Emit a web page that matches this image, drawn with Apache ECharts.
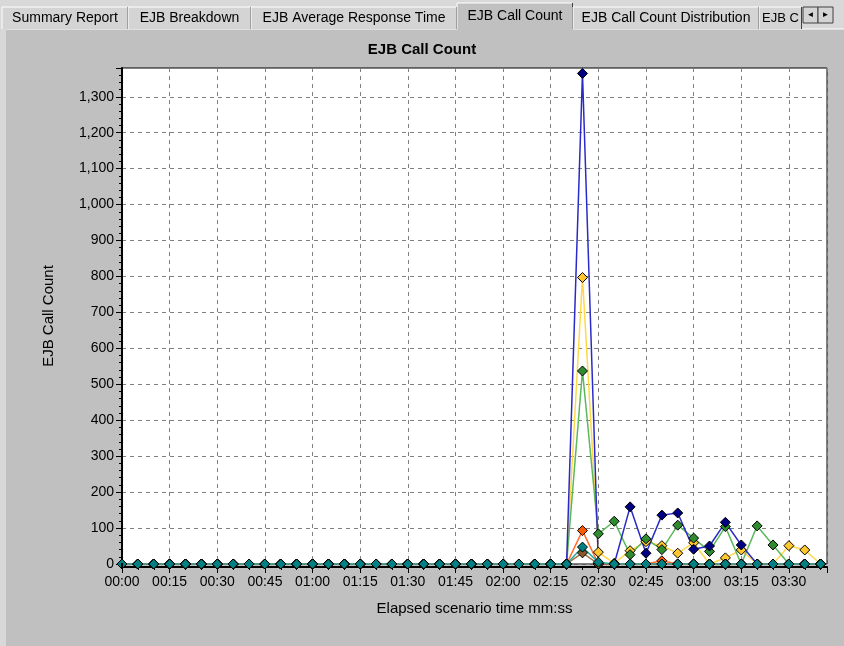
<!DOCTYPE html>
<html><head><meta charset="utf-8">
<script src="https://cdn.jsdelivr.net/npm/echarts@6/dist/echarts.min.js"></script>
<style>html,body{margin:0;padding:0;background:#c0c0c0;} #c{width:844px;height:646px;}</style>
</head><body><div id="c"></div>
<script>
// elapsed time, seconds
const seconds = [0,5,10,15,20,25,30,35,40,45,50,55,60,65,70,75,80,85,90,95,100,105,110,115,120,125,130,135,140,
  145,150,155,160,165,170,175,180,185,190,195,200,205,210,215,220];
const zeros29 = [0,0,0,0,0,0,0,0,0,0,0,0,0,0,0,0,0,0,0,0,0,0,0,0,0,0,0,0,0];
const blueVals   = zeros29.concat([1365, 0, 0, 159, 30, 136, 142, 41, 50, 116, 53, 0, 0, 0, 0, 0]);
const yellowVals = zeros29.concat([797, 33, 2, 37, 62, 51, 30, 59, 0, 17, 39, 0, 0, 51, 39, 0]);
const greenVals  = zeros29.concat([537, 84, 119, 26, 70, 40, 108, 72, 35, 104, 0, 106, 53, 0, 0, 0]);
const orangeVals = zeros29.concat([93, 0, 0, 0, 0, 9, 0, 0, 0, 0, 0, 0, 0, 0, 0, 0]);
const brownVals  = zeros29.concat([31, 0, 0, 0, 0, 0, 0, 0, 0, 0, 0, 0, 0, 0, 0, 0]);
const tealVals   = zeros29.concat([47, 5, 0, 0, 0, 0, 0, 0, 0, 0, 0, 0, 0, 0, 0, 0]);
const tabLabels = ['Summary Report','EJB Breakdown','EJB Average Response Time','EJB Call Count','EJB Call Count Distribution','EJB C'];
const chartTitle = 'EJB Call Count';
const yName = 'EJB Call Count';
const xName = 'Elapsed scenario time mm:ss';

const FONT = '"Liberation Sans", Arial, sans-serif';
function mmss(v){const m=Math.floor(v/60), s=Math.round(v%60);return (m<10?'0':'')+m+':'+(s<10?'0':'')+s;}
function pairs(vals){return seconds.map((s,i)=>[s, vals[i]]);}

function mk(name, vals, lineColor, markColor){
  return {name, type:'line', data:pairs(vals), symbol:'diamond', symbolSize:10,
    lineStyle:{color:lineColor, width:1.5}, itemStyle:{color:markColor, borderColor:'#000', borderWidth:1},
    emphasis:{disabled:true}, animation:false};
}

// tabs graphics
const tabX = [2,128,251,457,573,759,802];
const graphics = [{type:'rect', shape:{x:0,y:0,width:844,height:29}, style:{fill:'#d8d8d8'}, z:1},
                  {type:'rect', shape:{x:0,y:29,width:6,height:617}, style:{fill:'#d8d8d8'}, z:1},
                  {type:'line', shape:{x1:6,y1:29,x2:844,y2:29}, style:{stroke:'#ffffff',lineWidth:1}, z:2}];
tabLabels.forEach((t,i)=>{
  const sel = i===3;
  const x0 = tabX[i], x1 = tabX[i+1];
  const y0 = sel?3:7;
  graphics.push({type:'rect', shape:{x:x0,y:y0,width:x1-x0,height:(sel?30:29)-y0}, style:{fill:sel?'#c0c0c0':'#d4d4d4'}, z:3});
  graphics.push({type:'polyline', shape:{points:[[x0,29],[x0,y0],[x1-1,y0]]}, style:{stroke:'#fff',lineWidth:1,fill:null}, z:4});
  graphics.push({type:'line', shape:{x1:x1-0.5,y1:y0,x2:x1-0.5,y2:29}, style:{stroke:'#404040',lineWidth:1}, z:4});
  graphics.push({type:'text', style:{text:t, x:(i===5?x0+3:(x0+x1)/2), y:y0+(sel?13:11), font:(i===5?'13px ':'14px ')+FONT, fill:'#000',
    align:(i===5?'left':'center'), verticalAlign:'middle'}, z:5});
});
// scroll arrows
[[803,'◄'],[818,'►']].forEach(([x,a])=>{
  graphics.push({type:'rect', shape:{x:x,y:7,width:15,height:16}, style:{fill:'#d4d4d4',stroke:'#404040',lineWidth:1}, z:6});
  graphics.push({type:'text', style:{text:a, x:x+7.5, y:15, font:'8px '+FONT, fill:'#000', align:'center', verticalAlign:'middle'}, z:7});
});
// extend y axis line to the offset x axis
graphics.push({type:'line', shape:{x1:122,y1:563,x2:122,y2:568}, style:{stroke:'#000',lineWidth:2}, z:10});

const option = {
  animation:false,
  backgroundColor:'#c0c0c0',
  title:{text:chartTitle, left:'center', top:37, textStyle:{fontFamily:FONT, fontSize:15, fontWeight:'bold', color:'#000'}},
  grid:{left:122, top:68, right:17, bottom:82, show:true, backgroundColor:'#fff', borderColor:'#000', borderWidth:1},
  xAxis:{type:'value', min:0, max:222, interval:15, offset:3,
    name:xName, nameLocation:'middle', nameGap:34, nameTextStyle:{fontFamily:FONT, fontSize:15, color:'#000'},
    axisLine:{onZero:false, lineStyle:{color:'#000', width:2}},
    axisTick:{length:6, lineStyle:{color:'#000'}},
    minorTick:{show:true, splitNumber:3, length:3, lineStyle:{color:'#000'}},
    axisLabel:{formatter:mmss, showMaxLabel:false, fontFamily:FONT, fontSize:14, color:'#000', margin:8},
    splitLine:{show:true, lineStyle:{color:'#808080', type:[4,4], width:1}}},
  yAxis:{type:'value', min:0, max:1380, interval:100,
    name:yName, nameLocation:'middle', nameGap:66, nameRotate:90, nameTextStyle:{fontFamily:FONT, fontSize:15, color:'#000'},
    axisLine:{lineStyle:{color:'#000', width:2}},
    axisTick:{length:6, lineStyle:{color:'#000'}},
    minorTick:{show:true, splitNumber:5, length:3, lineStyle:{color:'#000'}},
    axisLabel:{formatter:v=>v.toLocaleString('en-US'), showMaxLabel:false, fontFamily:FONT, fontSize:14, color:'#000', margin:8},
    splitLine:{show:true, lineStyle:{color:'#808080', type:[4,4], width:1}}},
  graphic:graphics,
  series:[
    mk('yellow', yellowVals, '#ffd84a', '#ffc82e'),
    mk('green', greenVals, '#5cb85c', '#2e8b2e'),
    mk('blue', blueVals, '#2a2ac8', '#000080'),
    mk('orange', orangeVals, '#ff6a2a', '#ff5a00'),
    mk('brown', brownVals, '#a07040', '#8b5a2b'),
    mk('teal', tealVals, '#2aa8a0', '#008080')
  ]
};
const chart = echarts.init(document.getElementById('c'), null, {renderer:'canvas'});
chart.setOption(option);
</script></body></html>
